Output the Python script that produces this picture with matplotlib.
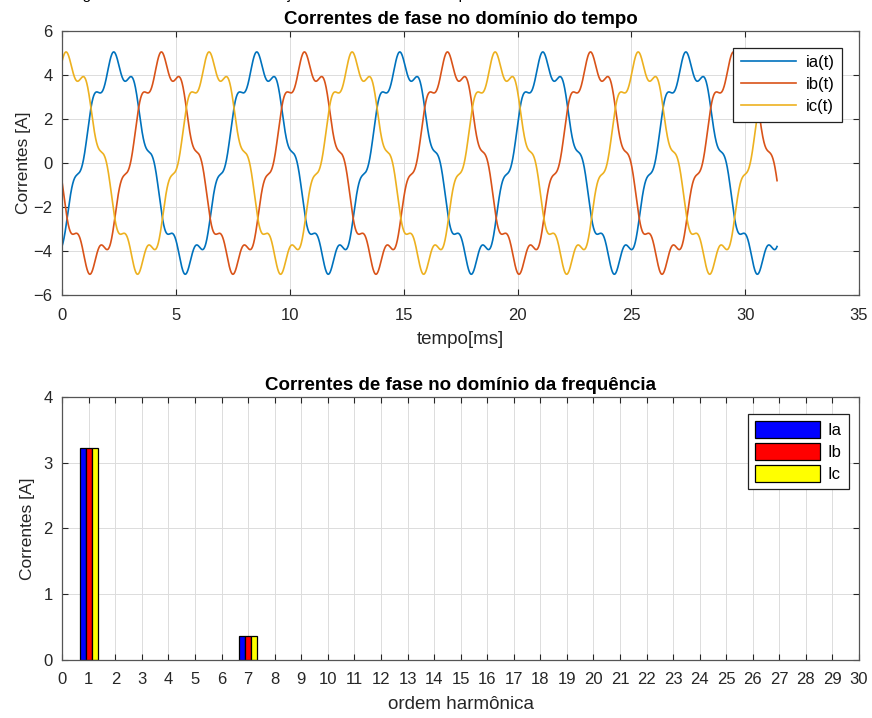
import numpy as np
import matplotlib.pyplot as plt

plt.rcParams['font.family'] = ['Liberation Sans', 'DejaVu Sans']
plt.rcParams['axes.linewidth'] = 0.9

# harmonic content of the three phase currents (rms values in A)
harm_order = [1, 7]
ia_rms = [3.22, 0.37]
ib_rms = [3.22, 0.37]
ic_rms = [3.22, 0.37]
harm_phase_deg = [-45, -90]          # phase angle of each harmonic in phase a
phase_shift_deg = [0, -120, 120]     # a, b, c displacement of the fundamental
omega = 1.0                          # rad/ms  (1000 rad/s)
t_end = 31.4                         # ms

phase_names = ['ia(t)', 'ib(t)', 'ic(t)']
bar_names = ['Ia', 'Ib', 'Ic']
line_colors = ['#0072BD', '#D95319', '#EDB120']
bar_colors = ['#0000FF', '#FF0000', '#FFFF00']

ax_color = '#262626'
grid_color = '#DCDCDC'


def phase_current(t, rms, shift_deg):
    i = np.zeros_like(t)
    for h, r, ph in zip(harm_order, rms, harm_phase_deg):
        ang = h * (omega * t + np.deg2rad(shift_deg)) + np.deg2rad(ph)
        i += np.sqrt(2) * r * np.sin(ang)
    return i


def matlab_style(ax):
    ax.grid(True, color=grid_color, linewidth=0.7)
    ax.set_axisbelow(True)
    ax.tick_params(direction='in', top=True, right=True, length=4,
                   width=0.8, colors=ax_color, labelsize=12, pad=7)
    ax.tick_params(axis='x', pad=9)
    for s in ax.spines.values():
        s.set_color('#555555')


fig = plt.figure(figsize=(8.72, 7.18), dpi=100)

# caption of the page, mostly above the image
fig.text(0.08, 1.0016, 'Figura 1 – Correntes com distorção harmônica e o seu espectro',
         fontsize=11, va='baseline', ha='left', color='black')

# --- time domain ---
ax1 = fig.add_axes([0.0714, 0.589, 0.9137, 0.3677])
t = np.linspace(0, t_end, 3000)
for rms, shift, name, c in zip([ia_rms, ib_rms, ic_rms], phase_shift_deg,
                               phase_names, line_colors):
    ax1.plot(t, phase_current(t, rms, shift), color=c, linewidth=1.2, label=name)

ax1.set_xlim(0, 35)
ax1.set_ylim(-6, 6)
ax1.set_xticks(np.arange(0, 36, 5))
ax1.set_yticks(np.arange(-6, 7, 2))
matlab_style(ax1)
ax1.set_title('Correntes de fase no domínio do tempo', fontsize=13.5,
              fontweight='bold', color='black', pad=5)
ax1.set_xlabel('tempo[ms]', fontsize=13.5, color=ax_color, labelpad=6)
ax1.set_ylabel('Correntes [A]', fontsize=12.5, color=ax_color, labelpad=2)
leg1 = ax1.legend(loc='upper right', bbox_to_anchor=(0.979, 0.937),
                  fontsize=12, handlelength=3.3, fancybox=False,
                  edgecolor='#222222', framealpha=1, borderaxespad=0,
                  labelspacing=0.42, borderpad=0.45, handletextpad=0.6)
leg1.get_frame().set_linewidth(0.9)

# --- frequency domain ---
ax2 = fig.add_axes([0.0714, 0.0808, 0.9137, 0.3663])
bar_w = 0.222
orders = np.array(harm_order)
for k, (rms, name, c) in enumerate(zip([ia_rms, ib_rms, ic_rms], bar_names, bar_colors)):
    ax2.bar(orders + (k - 1) * bar_w, rms, width=bar_w, color=c,
            edgecolor='black', linewidth=0.9, label=name)

ax2.set_xlim(0, 30)
ax2.set_ylim(0, 4)
ax2.set_xticks(np.arange(0, 31, 1))
ax2.set_yticks(np.arange(0, 5, 1))
matlab_style(ax2)
ax2.set_title('Correntes de fase no domínio da frequência', fontsize=13.5,
              fontweight='bold', color='black', pad=5)
ax2.set_xlabel('ordem harmônica', fontsize=13.5, color=ax_color, labelpad=6)
ax2.set_ylabel('Correntes [A]', fontsize=12.5, color=ax_color, labelpad=6)
leg2 = ax2.legend(loc='upper right', bbox_to_anchor=(0.987, 0.935),
                  fontsize=12, handlelength=3.9, handleheight=1.2,
                  fancybox=False, edgecolor='#222222', framealpha=1,
                  borderaxespad=0, labelspacing=0.3, borderpad=0.4,
                  handletextpad=0.5)
leg2.get_frame().set_linewidth(0.9)

fig.savefig('out.png', dpi=100, facecolor='white')
